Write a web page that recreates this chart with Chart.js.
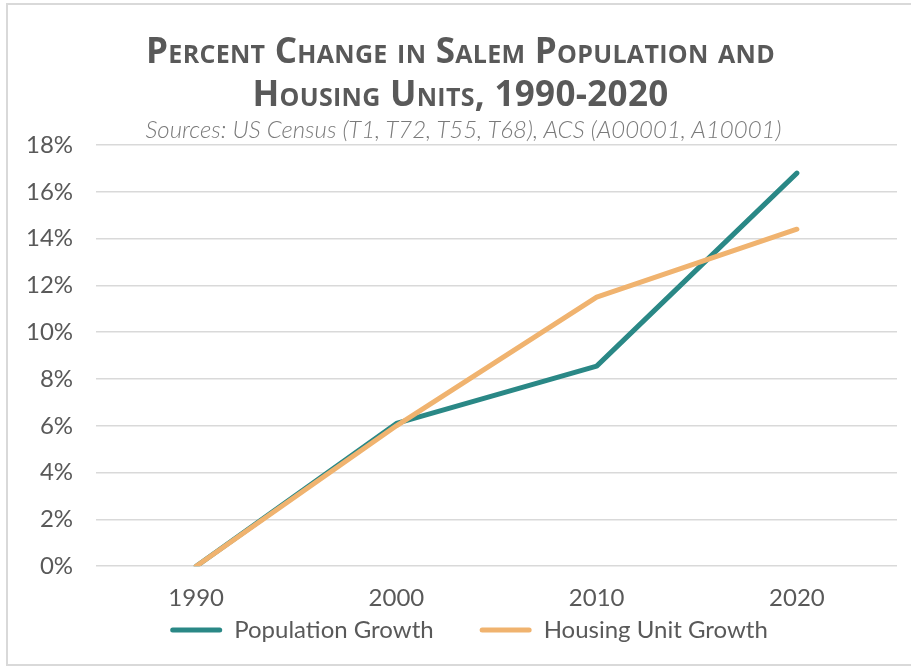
<!DOCTYPE html>
<html>
<head>
<meta charset="utf-8">
<script src="https://cdn.jsdelivr.net/npm/chart.js@4.4.1/dist/chart.umd.min.js"></script>
<style>
	body { margin: 0; background: #fff; overflow: hidden; }
	.wrap { position: relative; width: 911px; height: 666px; overflow: hidden; }
	.frame { position: absolute; left: 6px; top: 3px; width: 940px; height: 659px; border: 2px solid #d9d9d9; }
	.title { position: absolute; left: 0; top: 28px; width: 921px; text-align: center;
		font-family: "Open Sans", sans-serif; font-weight: 700; font-size: 35px; line-height: 43px;
		letter-spacing: 0.3px; font-variant: small-caps; color: #595959; }
	.sub { position: absolute; left: 0; top: 114px; width: 927px; text-align: center;
		font-family: Lato, sans-serif; font-style: italic; font-weight: 300; font-size: 24px; color: #7a7a7a; }
	canvas { position: absolute; left: 0; top: 0; }
</style>
</head>
<body>
<div class="wrap">
	<div class="frame"></div>
	<canvas id="growthChart" width="911" height="666"></canvas>
	<div class="title">Percent Change in Salem Population and<br>Housing Units, 1990-2020</div>
	<div class="sub">Sources: US Census (T1, T72, T55, T68), ACS (A00001, A10001)</div>
</div>
<script>
// data
const years = ['1990', '2000', '2010', '2020'];
const populationGrowth = [0, 6.1, 8.55, 16.8];
const housingGrowth = [0, 6.0, 11.5, 14.4];
const yTicks = [0, 2, 4, 6, 8, 10, 12, 14, 16, 18];

const teal = '#2a8886';
const orange = '#f0b36f';

// move the legend to where the original has it
const legendShift = {
	id: 'legendShift',
	afterLayout(chart) {
		const lg = chart.legend;
		lg.left += 19; lg.right += 19;
		lg.top -= 51; lg.bottom -= 51;
	}
};

const ctx = document.getElementById('growthChart').getContext('2d');
new Chart(ctx, {
	type: 'line',
	data: {
		labels: years,
		datasets: [{
			label: 'Population Growth',
			data: populationGrowth,
			borderColor: teal,
			backgroundColor: teal,
			order: 1
		}, {
			label: 'Housing Unit Growth',
			data: housingGrowth,
			borderColor: orange,
			backgroundColor: orange,
			order: 0
		}]
	},
	options: {
		responsive: false,
		animation: false,
		events: [],
		layout: { padding: { top: 145, left: 3, right: 14, bottom: -37 } },
		elements: {
			line: { borderWidth: 5, tension: 0, borderCapStyle: 'round', borderJoinStyle: 'round' },
			point: { radius: 0 }
		},
		plugins: {
			tooltip: { enabled: false },
			legend: {
				position: 'bottom',
				labels: {
					boxWidth: 52,
					boxHeight: 5,
					padding: 46,
					color: '#595959',
					font: { family: 'Lato', size: 24 },
					generateLabels(chart) {
						const items = Chart.defaults.plugins.legend.labels.generateLabels(chart);
						items.sort((a, b) => a.datasetIndex - b.datasetIndex);
						items.forEach(it => {
							it.fillStyle = it.strokeStyle;
							it.lineWidth = 0;
							it.borderRadius = 2.5;
						});
						return items;
					}
				}
			}
		},
		scales: {
			x: {
				offset: true,
				grid: { display: false },
				border: { display: false },
				ticks: { color: '#595959', font: { family: 'Lato', size: 24 }, padding: 10 }
			},
			y: {
				min: 0,
				max: 18,
				afterBuildTicks(axis) { axis.ticks = yTicks.map(v => ({ value: v })); },
				grid: { color: '#d9d9d9', lineWidth: 1.5, drawTicks: false },
				border: { display: false },
				ticks: {
					color: '#595959',
					font: { family: 'Lato', size: 24 },
					padding: 23,
					callback: v => v + '%'
				}
			}
		}
	},
	plugins: [legendShift]
});
</script>
</body>
</html>
